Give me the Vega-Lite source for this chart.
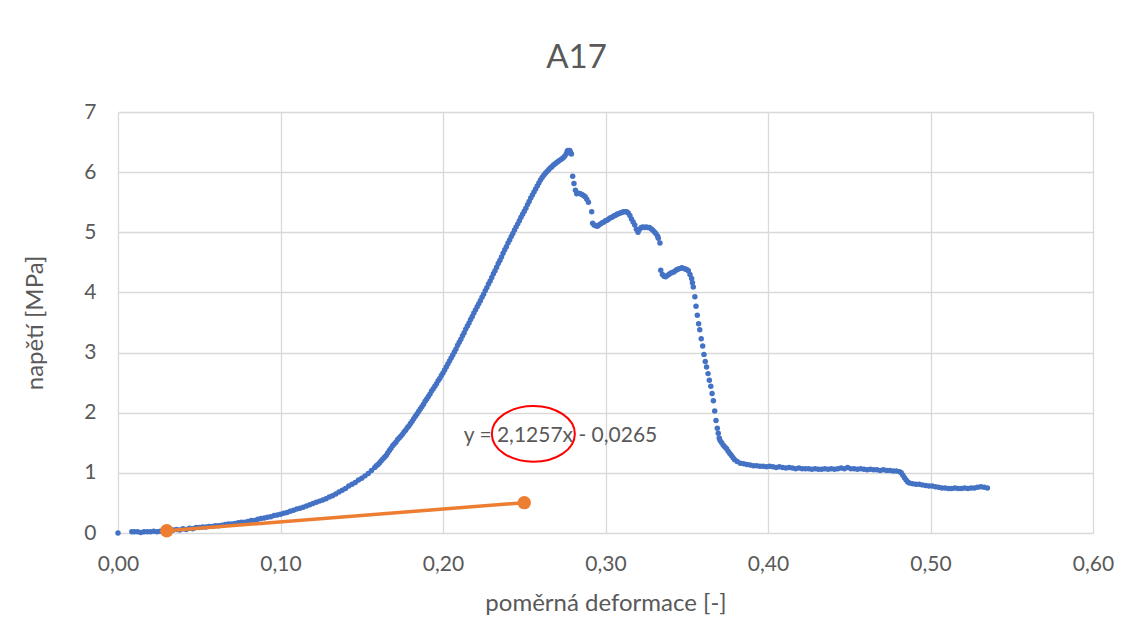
{
  "$schema": "https://vega.github.io/schema/vega-lite/v6.json",
  "autosize": {"type": "none"},
  "width": 975,
  "height": 421,
  "padding": {"left": 118, "top": 112, "right": 38, "bottom": 111},
  "background": "#ffffff",
  "title": {
    "text": "A17",
    "anchor": "middle",
    "frame": "group",
    "dx": -29,
    "offset": 26,
    "font": "Lato",
    "fontSize": 33,
    "fontWeight": "normal",
    "color": "#595959"
  },
  "config": {
    "view": {"stroke": null},
    "axis": {
      "domain": false,
      "ticks": false,
      "grid": true,
      "gridColor": "#d9d9d9",
      "gridWidth": 1.3,
      "labelFlush": false,
      "labelColor": "#595959",
      "labelFont": "Lato",
      "labelFontSize": 21,
      "titleColor": "#595959",
      "titleFont": "Lato",
      "titleFontSize": 24,
      "titleFontWeight": "normal"
    }
  },
  "datasets": {
    "measured": [
      {"x": 0, "y": 0},
      {"x": 0.0085, "y": 0.02}, {"x": 0.010, "y": 0.02}, {"x": 0.012, "y": 0.02}, {"x": 0.014, "y": 0.01},
      {"x": 0.016, "y": 0.02}, {"x": 0.018, "y": 0.02}, {"x": 0.020, "y": 0.02}, {"x": 0.022, "y": 0.03},
      {"x": 0.024, "y": 0.02}, {"x": 0.026, "y": 0.03}, {"x": 0.028, "y": 0.04}, {"x": 0.030, "y": 0.04},
      {"x": 0.032, "y": 0.04}, {"x": 0.034, "y": 0.05}, {"x": 0.036, "y": 0.06}, {"x": 0.038, "y": 0.05},
      {"x": 0.040, "y": 0.07}, {"x": 0.042, "y": 0.06}, {"x": 0.044, "y": 0.08}, {"x": 0.046, "y": 0.07},
      {"x": 0.048, "y": 0.09}, {"x": 0.050, "y": 0.09}, {"x": 0.052, "y": 0.10}, {"x": 0.054, "y": 0.10},
      {"x": 0.056, "y": 0.11}, {"x": 0.058, "y": 0.11}, {"x": 0.060, "y": 0.12}, {"x": 0.062, "y": 0.12},
      {"x": 0.064, "y": 0.13}, {"x": 0.066, "y": 0.14}, {"x": 0.068, "y": 0.15}, {"x": 0.070, "y": 0.15},
      {"x": 0.072, "y": 0.16}, {"x": 0.074, "y": 0.17}, {"x": 0.076, "y": 0.18}, {"x": 0.078, "y": 0.18},
      {"x": 0.080, "y": 0.19}, {"x": 0.082, "y": 0.21}, {"x": 0.084, "y": 0.21}, {"x": 0.086, "y": 0.23},
      {"x": 0.088, "y": 0.24}, {"x": 0.090, "y": 0.25}, {"x": 0.092, "y": 0.26}, {"x": 0.094, "y": 0.27},
      {"x": 0.096, "y": 0.29}, {"x": 0.098, "y": 0.30}, {"x": 0.100, "y": 0.31}, {"x": 0.102, "y": 0.33},
      {"x": 0.104, "y": 0.34}, {"x": 0.106, "y": 0.36}, {"x": 0.108, "y": 0.38}, {"x": 0.110, "y": 0.40},
      {"x": 0.112, "y": 0.41}, {"x": 0.114, "y": 0.43}, {"x": 0.116, "y": 0.45}, {"x": 0.118, "y": 0.47},
      {"x": 0.120, "y": 0.49}, {"x": 0.122, "y": 0.51}, {"x": 0.124, "y": 0.53}, {"x": 0.126, "y": 0.55},
      {"x": 0.128, "y": 0.57}, {"x": 0.130, "y": 0.60}, {"x": 0.132, "y": 0.62}, {"x": 0.134, "y": 0.65},
      {"x": 0.136, "y": 0.68}, {"x": 0.138, "y": 0.71}, {"x": 0.140, "y": 0.74}, {"x": 0.142, "y": 0.78},
      {"x": 0.144, "y": 0.81}, {"x": 0.146, "y": 0.84}, {"x": 0.148, "y": 0.88}, {"x": 0.150, "y": 0.91},
      {"x": 0.152, "y": 0.95}, {"x": 0.154, "y": 0.99}, {"x": 0.156, "y": 1.04}, {"x": 0.158, "y": 1.09},
      {"x": 0.159, "y": 1.12}, {"x": 0.160, "y": 1.14}, {"x": 0.161, "y": 1.17}, {"x": 0.162, "y": 1.20},
      {"x": 0.163, "y": 1.23}, {"x": 0.164, "y": 1.26}, {"x": 0.165, "y": 1.29}, {"x": 0.166, "y": 1.33},
      {"x": 0.167, "y": 1.37}, {"x": 0.168, "y": 1.41}, {"x": 0.169, "y": 1.45}, {"x": 0.170, "y": 1.48},
      {"x": 0.171, "y": 1.51}, {"x": 0.172, "y": 1.55}, {"x": 0.173, "y": 1.58}, {"x": 0.174, "y": 1.61},
      {"x": 0.175, "y": 1.64}, {"x": 0.176, "y": 1.68}, {"x": 0.177, "y": 1.71}, {"x": 0.178, "y": 1.75},
      {"x": 0.179, "y": 1.78}, {"x": 0.180, "y": 1.82}, {"x": 0.181, "y": 1.86}, {"x": 0.182, "y": 1.90},
      {"x": 0.183, "y": 1.94}, {"x": 0.184, "y": 1.98}, {"x": 0.185, "y": 2.02}, {"x": 0.186, "y": 2.06},
      {"x": 0.187, "y": 2.10}, {"x": 0.188, "y": 2.14}, {"x": 0.189, "y": 2.19}, {"x": 0.190, "y": 2.23},
      {"x": 0.191, "y": 2.27}, {"x": 0.192, "y": 2.31}, {"x": 0.193, "y": 2.36}, {"x": 0.194, "y": 2.40},
      {"x": 0.195, "y": 2.44}, {"x": 0.196, "y": 2.48}, {"x": 0.197, "y": 2.53}, {"x": 0.198, "y": 2.57},
      {"x": 0.199, "y": 2.62}, {"x": 0.200, "y": 2.66}, {"x": 0.201, "y": 2.71}, {"x": 0.202, "y": 2.76},
      {"x": 0.203, "y": 2.81}, {"x": 0.204, "y": 2.86}, {"x": 0.205, "y": 2.91}, {"x": 0.206, "y": 2.96},
      {"x": 0.207, "y": 3.01}, {"x": 0.208, "y": 3.06}, {"x": 0.209, "y": 3.12}, {"x": 0.210, "y": 3.17},
      {"x": 0.211, "y": 3.22}, {"x": 0.212, "y": 3.28}, {"x": 0.213, "y": 3.33}, {"x": 0.214, "y": 3.39},
      {"x": 0.215, "y": 3.44}, {"x": 0.216, "y": 3.49}, {"x": 0.217, "y": 3.55}, {"x": 0.218, "y": 3.60},
      {"x": 0.219, "y": 3.66}, {"x": 0.220, "y": 3.71}, {"x": 0.221, "y": 3.76}, {"x": 0.222, "y": 3.81},
      {"x": 0.223, "y": 3.86}, {"x": 0.224, "y": 3.92}, {"x": 0.225, "y": 3.97}, {"x": 0.226, "y": 4.03},
      {"x": 0.227, "y": 4.08}, {"x": 0.228, "y": 4.14}, {"x": 0.229, "y": 4.19}, {"x": 0.230, "y": 4.25},
      {"x": 0.231, "y": 4.31}, {"x": 0.232, "y": 4.36}, {"x": 0.233, "y": 4.42}, {"x": 0.234, "y": 4.48},
      {"x": 0.235, "y": 4.53}, {"x": 0.236, "y": 4.59}, {"x": 0.237, "y": 4.65}, {"x": 0.238, "y": 4.71},
      {"x": 0.239, "y": 4.76}, {"x": 0.240, "y": 4.82}, {"x": 0.241, "y": 4.87}, {"x": 0.242, "y": 4.93},
      {"x": 0.243, "y": 4.98}, {"x": 0.244, "y": 5.04}, {"x": 0.245, "y": 5.09}, {"x": 0.246, "y": 5.14},
      {"x": 0.247, "y": 5.19}, {"x": 0.248, "y": 5.25}, {"x": 0.249, "y": 5.30}, {"x": 0.250, "y": 5.35},
      {"x": 0.251, "y": 5.40}, {"x": 0.252, "y": 5.46}, {"x": 0.253, "y": 5.51}, {"x": 0.254, "y": 5.57},
      {"x": 0.255, "y": 5.62}, {"x": 0.256, "y": 5.67}, {"x": 0.257, "y": 5.72}, {"x": 0.258, "y": 5.77},
      {"x": 0.259, "y": 5.82}, {"x": 0.260, "y": 5.87}, {"x": 0.261, "y": 5.91}, {"x": 0.262, "y": 5.95},
      {"x": 0.263, "y": 5.98}, {"x": 0.264, "y": 6.01}, {"x": 0.265, "y": 6.04}, {"x": 0.266, "y": 6.07},
      {"x": 0.267, "y": 6.09}, {"x": 0.268, "y": 6.12}, {"x": 0.269, "y": 6.14}, {"x": 0.270, "y": 6.16},
      {"x": 0.271, "y": 6.18}, {"x": 0.272, "y": 6.20}, {"x": 0.273, "y": 6.22}, {"x": 0.274, "y": 6.24},
      {"x": 0.275, "y": 6.27}, {"x": 0.276, "y": 6.31}, {"x": 0.2765, "y": 6.35}, {"x": 0.277, "y": 6.36},
      {"x": 0.2775, "y": 6.35}, {"x": 0.278, "y": 6.36}, {"x": 0.2785, "y": 6.33}, {"x": 0.279, "y": 6.30},
      {"x": 0.2798, "y": 5.93}, {"x": 0.2806, "y": 5.81}, {"x": 0.2815, "y": 5.70}, {"x": 0.2823, "y": 5.64},
      {"x": 0.2835, "y": 5.65}, {"x": 0.2845, "y": 5.64}, {"x": 0.2855, "y": 5.63}, {"x": 0.2865, "y": 5.61},
      {"x": 0.2875, "y": 5.59}, {"x": 0.2885, "y": 5.55}, {"x": 0.2895, "y": 5.50}, {"x": 0.2915, "y": 5.34},
      {"x": 0.2921, "y": 5.15}, {"x": 0.293, "y": 5.12}, {"x": 0.294, "y": 5.11}, {"x": 0.295, "y": 5.10},
      {"x": 0.296, "y": 5.12}, {"x": 0.297, "y": 5.14}, {"x": 0.298, "y": 5.16}, {"x": 0.299, "y": 5.17},
      {"x": 0.300, "y": 5.19}, {"x": 0.301, "y": 5.20}, {"x": 0.302, "y": 5.22}, {"x": 0.303, "y": 5.24},
      {"x": 0.304, "y": 5.25}, {"x": 0.305, "y": 5.27}, {"x": 0.306, "y": 5.28}, {"x": 0.307, "y": 5.30},
      {"x": 0.308, "y": 5.31}, {"x": 0.309, "y": 5.32}, {"x": 0.310, "y": 5.33}, {"x": 0.311, "y": 5.34},
      {"x": 0.312, "y": 5.34}, {"x": 0.313, "y": 5.34}, {"x": 0.314, "y": 5.32}, {"x": 0.315, "y": 5.28},
      {"x": 0.316, "y": 5.22}, {"x": 0.317, "y": 5.17}, {"x": 0.318, "y": 5.12}, {"x": 0.319, "y": 5.05},
      {"x": 0.320, "y": 5.00}, {"x": 0.321, "y": 5.05}, {"x": 0.322, "y": 5.08}, {"x": 0.323, "y": 5.09},
      {"x": 0.324, "y": 5.08}, {"x": 0.325, "y": 5.09}, {"x": 0.326, "y": 5.08}, {"x": 0.327, "y": 5.08},
      {"x": 0.328, "y": 5.06}, {"x": 0.329, "y": 5.04}, {"x": 0.330, "y": 5.01}, {"x": 0.331, "y": 4.98},
      {"x": 0.332, "y": 4.94}, {"x": 0.3325, "y": 4.90}, {"x": 0.3335, "y": 4.82},
      {"x": 0.334, "y": 4.37}, {"x": 0.335, "y": 4.30}, {"x": 0.336, "y": 4.27}, {"x": 0.337, "y": 4.26},
      {"x": 0.338, "y": 4.28}, {"x": 0.339, "y": 4.30}, {"x": 0.340, "y": 4.32}, {"x": 0.341, "y": 4.33},
      {"x": 0.342, "y": 4.34}, {"x": 0.343, "y": 4.36}, {"x": 0.344, "y": 4.38}, {"x": 0.345, "y": 4.39},
      {"x": 0.346, "y": 4.40}, {"x": 0.347, "y": 4.41}, {"x": 0.348, "y": 4.40}, {"x": 0.349, "y": 4.39},
      {"x": 0.350, "y": 4.38}, {"x": 0.351, "y": 4.36}, {"x": 0.352, "y": 4.30}, {"x": 0.353, "y": 4.23},
      {"x": 0.3535, "y": 4.16}, {"x": 0.354, "y": 4.09}, {"x": 0.355, "y": 3.93}, {"x": 0.3557, "y": 3.77},
      {"x": 0.3565, "y": 3.62}, {"x": 0.3573, "y": 3.48}, {"x": 0.358, "y": 3.38}, {"x": 0.3589, "y": 3.23},
      {"x": 0.3598, "y": 3.11}, {"x": 0.3606, "y": 2.97}, {"x": 0.3614, "y": 2.85}, {"x": 0.3622, "y": 2.76},
      {"x": 0.3631, "y": 2.65}, {"x": 0.3639, "y": 2.54}, {"x": 0.3648, "y": 2.44}, {"x": 0.3656, "y": 2.32},
      {"x": 0.3664, "y": 2.20}, {"x": 0.3672, "y": 2.03}, {"x": 0.3680, "y": 1.87}, {"x": 0.3688, "y": 1.74},
      {"x": 0.3694, "y": 1.66}, {"x": 0.3700, "y": 1.58}, {"x": 0.3705, "y": 1.54}, {"x": 0.3715, "y": 1.50},
      {"x": 0.3725, "y": 1.46}, {"x": 0.3735, "y": 1.43}, {"x": 0.3745, "y": 1.40}, {"x": 0.3755, "y": 1.36},
      {"x": 0.3765, "y": 1.32}, {"x": 0.3775, "y": 1.29}, {"x": 0.3785, "y": 1.25}, {"x": 0.3795, "y": 1.22},
      {"x": 0.381, "y": 1.19}, {"x": 0.383, "y": 1.16}, {"x": 0.385, "y": 1.15}, {"x": 0.387, "y": 1.14},
      {"x": 0.389, "y": 1.13}, {"x": 0.391, "y": 1.12}, {"x": 0.393, "y": 1.12}, {"x": 0.395, "y": 1.11},
      {"x": 0.397, "y": 1.11}, {"x": 0.399, "y": 1.10}, {"x": 0.401, "y": 1.11}, {"x": 0.403, "y": 1.10},
      {"x": 0.405, "y": 1.09}, {"x": 0.407, "y": 1.10}, {"x": 0.409, "y": 1.09}, {"x": 0.411, "y": 1.08},
      {"x": 0.413, "y": 1.09}, {"x": 0.415, "y": 1.08}, {"x": 0.417, "y": 1.07}, {"x": 0.419, "y": 1.08},
      {"x": 0.421, "y": 1.07}, {"x": 0.423, "y": 1.07}, {"x": 0.425, "y": 1.07}, {"x": 0.427, "y": 1.06},
      {"x": 0.429, "y": 1.07}, {"x": 0.431, "y": 1.06}, {"x": 0.433, "y": 1.06}, {"x": 0.435, "y": 1.07},
      {"x": 0.437, "y": 1.06}, {"x": 0.439, "y": 1.07}, {"x": 0.441, "y": 1.06}, {"x": 0.443, "y": 1.07},
      {"x": 0.445, "y": 1.08}, {"x": 0.447, "y": 1.07}, {"x": 0.449, "y": 1.09}, {"x": 0.451, "y": 1.07},
      {"x": 0.453, "y": 1.07}, {"x": 0.455, "y": 1.06}, {"x": 0.457, "y": 1.07}, {"x": 0.459, "y": 1.06},
      {"x": 0.461, "y": 1.05}, {"x": 0.463, "y": 1.06}, {"x": 0.465, "y": 1.05}, {"x": 0.467, "y": 1.05},
      {"x": 0.469, "y": 1.04}, {"x": 0.471, "y": 1.05}, {"x": 0.473, "y": 1.04}, {"x": 0.475, "y": 1.04},
      {"x": 0.477, "y": 1.03}, {"x": 0.479, "y": 1.03}, {"x": 0.481, "y": 1.02}, {"x": 0.482, "y": 1.00},
      {"x": 0.483, "y": 0.96}, {"x": 0.484, "y": 0.92}, {"x": 0.485, "y": 0.88}, {"x": 0.486, "y": 0.85},
      {"x": 0.487, "y": 0.83}, {"x": 0.489, "y": 0.82}, {"x": 0.491, "y": 0.81}, {"x": 0.493, "y": 0.81},
      {"x": 0.495, "y": 0.80}, {"x": 0.497, "y": 0.79}, {"x": 0.499, "y": 0.78}, {"x": 0.501, "y": 0.78},
      {"x": 0.503, "y": 0.77}, {"x": 0.505, "y": 0.76}, {"x": 0.507, "y": 0.75}, {"x": 0.509, "y": 0.75},
      {"x": 0.511, "y": 0.74}, {"x": 0.513, "y": 0.74}, {"x": 0.515, "y": 0.75}, {"x": 0.517, "y": 0.74},
      {"x": 0.519, "y": 0.74}, {"x": 0.521, "y": 0.75}, {"x": 0.523, "y": 0.74}, {"x": 0.525, "y": 0.75},
      {"x": 0.527, "y": 0.75}, {"x": 0.529, "y": 0.76}, {"x": 0.531, "y": 0.77}, {"x": 0.533, "y": 0.76},
      {"x": 0.535, "y": 0.75}
    ],
    "modulus": [
      {"x": 0.03, "y": 0.0373},
      {"x": 0.25, "y": 0.5049}
    ],
    "note": [
      {"x": 0.2723, "y": 1.517, "label": "y = 2,1257x - 0,0265"}
    ],
    "mark_ring": [
      {"x": 0.2556, "y": 1.648}
    ]
  },
  "encoding": {
    "x": {
      "field": "x",
      "type": "quantitative",
      "scale": {"domain": [0, 0.6], "nice": false, "zero": false},
      "axis": {
        "title": "poměrná deformace [-]",
        "values": [0, 0.1, 0.2, 0.3, 0.4, 0.5, 0.6],
        "labelExpr": "replace(format(datum.value, '.2f'), '.', ',')",
        "labelPadding": 20,
        "titlePadding": 17
      }
    },
    "y": {
      "field": "y",
      "type": "quantitative",
      "scale": {"domain": [0, 7], "nice": false, "zero": false},
      "axis": {
        "title": "napětí [MPa]",
        "values": [0, 1, 2, 3, 4, 5, 6, 7],
        "labelPadding": 22,
        "titlePadding": 36
      }
    }
  },
  "layer": [
    {
      "data": {"name": "measured"},
      "mark": {"type": "circle", "size": 30, "color": "#4472C4", "opacity": 1}
    },
    {
      "data": {"name": "modulus"},
      "mark": {"type": "line", "color": "#ED7D31", "strokeWidth": 3.5}
    },
    {
      "data": {"name": "modulus"},
      "mark": {"type": "circle", "size": 180, "color": "#ED7D31", "opacity": 1}
    },
    {
      "data": {"name": "note"},
      "mark": {
        "type": "text",
        "font": "Lato",
        "fontSize": 21,
        "color": "#595959",
        "align": "center",
        "baseline": "alphabetic"
      },
      "encoding": {"text": {"field": "label"}}
    },
    {
      "data": {"name": "mark_ring"},
      "mark": {
        "type": "point",
        "shape": "M -1 0 A 1 0.671 0 1 0 1 0 A 1 0.671 0 1 0 -1 0 Z",
        "size": 6889,
        "filled": false,
        "stroke": "#FF0000",
        "strokeWidth": 2,
        "opacity": 1
      }
    }
  ]
}
